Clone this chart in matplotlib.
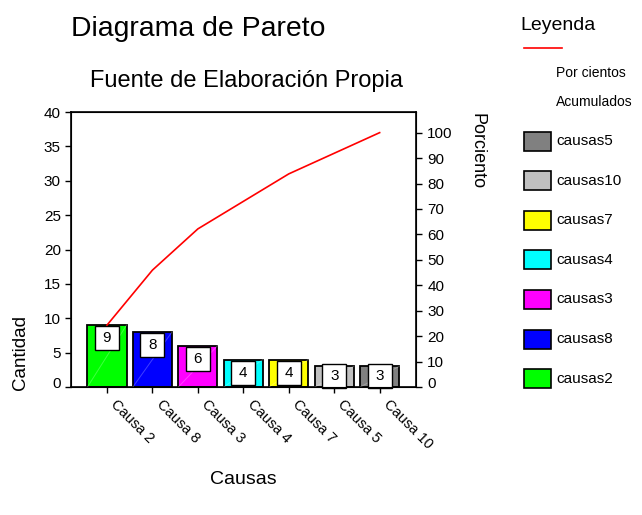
import numpy as np
import matplotlib
matplotlib.use("Agg")
import matplotlib.pyplot as plt
from matplotlib.lines import Line2D
from matplotlib.patches import Rectangle
from matplotlib.transforms import offset_copy, ScaledTranslation

plt.rcParams["font.family"] = ["Liberation Sans", "DejaVu Sans"]

causas = ["Causa 2", "Causa 8", "Causa 3", "Causa 4", "Causa 7", "Causa 5", "Causa 10"]
cantidad = [9, 8, 6, 4, 4, 3, 3]
colores = ["#00ff00", "#0000ff", "#ff00ff", "#00ffff", "#ffff00", "#c0c0c0", "#808080"]

leyenda_nombres = ["causas5", "causas10", "causas7", "causas4", "causas3", "causas8", "causas2"]
leyenda_colores = ["#808080", "#c0c0c0", "#ffff00", "#00ffff", "#ff00ff", "#0000ff", "#00ff00"]

total = sum(cantidad)
acumulado = np.cumsum(cantidad) / total * 100

W, H = 642, 515
fig = plt.figure(figsize=(W / 100, H / 100), dpi=100)
fx = lambda px: px / W
fy = lambda py: 1 - py / H

ax = fig.add_axes([0.110, 0.2485, 0.538, 0.534])
x = np.arange(len(causas))
ancho = 0.86
ax.bar(x, cantidad, width=ancho, color=colores, edgecolor="black", linewidth=1.3, zorder=2)
# reflejo diagonal de las barras
for xi, v in zip(x, cantidad):
    ax.plot([xi - ancho / 2, xi + ancho / 2], [0, v], color="white", lw=0.7, alpha=0.25, zorder=3)

# cajas con el valor (bajan 13 px desde la cima, sin salir del eje)
px_unidad = 0.534 * H / 40
for xi, v in zip(x, cantidad):
    baja = min(13, v * px_unidad - 11)
    caja = offset_copy(ax.transData, fig=fig, y=-baja, units="dots")
    ax.plot(xi, v, marker="s", ms=17.5, mfc="white", mec="black", mew=1.0,
            transform=caja, zorder=4, clip_on=False)
    ax.text(xi, v, str(v), transform=caja, ha="center", va="center", fontsize=11, zorder=5)

ax.set_xlim(-0.8, len(causas) - 0.2)
ax.set_ylim(0, 40)
ax.set_yticks(range(0, 41, 5))
ax.set_xticks(x)
ax.set_xticklabels(causas, rotation=-45, ha="left", va="top", rotation_mode="anchor", fontsize=10.5)
ax.tick_params(axis="y", direction="out", length=4, width=1, pad=3, labelsize=11)
ax.tick_params(axis="x", direction="out", length=4, width=1, pad=3)
for s in ax.spines.values():
    s.set_linewidth(1.2)
derecha = ScaledTranslation(11 / 100, 0, fig.dpi_scale_trans)
for lab in ax.get_xticklabels():
    lab.set_transform(lab.get_transform() + derecha)

ax2 = ax.twinx()
ax2.plot(x, acumulado, color="red", lw=1.2, zorder=6)
ax2.set_ylim(0, 40 / total * 100)
ax2.set_yticks(range(0, 101, 10))
ax2.tick_params(axis="y", direction="out", length=4, width=1, pad=4, labelsize=11)

# el "0" aparece algo por encima del eje
sube = ScaledTranslation(0, 5 / 100, fig.dpi_scale_trans)
for a in (ax, ax2):
    lab = a.get_yticklabels()[0]
    lab.set_transform(lab.get_transform() + sube)

fig.text(fx(71), fy(29), "Diagrama de Pareto", fontsize=20.4, ha="left", va="center")
fig.text(fx(246), fy(81), "Fuente de Elaboración Propia", fontsize=17, ha="center", va="center")
fig.text(fx(21), fy(352), "Cantidad", fontsize=13.5, rotation=90, ha="center", va="center")
fig.text(fx(477), fy(151), "Porciento", fontsize=13, rotation=270, ha="center", va="center")
fig.text(fx(243), fy(480), "Causas", fontsize=14, ha="center", va="center")

# leyenda
fig.text(fx(520), fy(26), "Leyenda", fontsize=14, ha="left", va="center")
fig.add_artist(Line2D([fx(524), fx(562)], [fy(48), fy(48)], color="red", lw=1.2))
fig.text(fx(556), fy(73), "Por cientos", fontsize=10, ha="left", va="center")
fig.text(fx(556), fy(102), "Acumulados", fontsize=10, ha="left", va="center")
for i, (nom, col) in enumerate(zip(leyenda_nombres, leyenda_colores)):
    yc = 141 + i * 39.6
    fig.add_artist(Rectangle((fx(524), fy(yc + 9.5)), fx(27), 19 / H,
                             facecolor=col, edgecolor="black", lw=1.2))
    fig.text(fx(556), fy(yc), nom, fontsize=11, ha="left", va="center")

fig.savefig("out.png", dpi=100)
